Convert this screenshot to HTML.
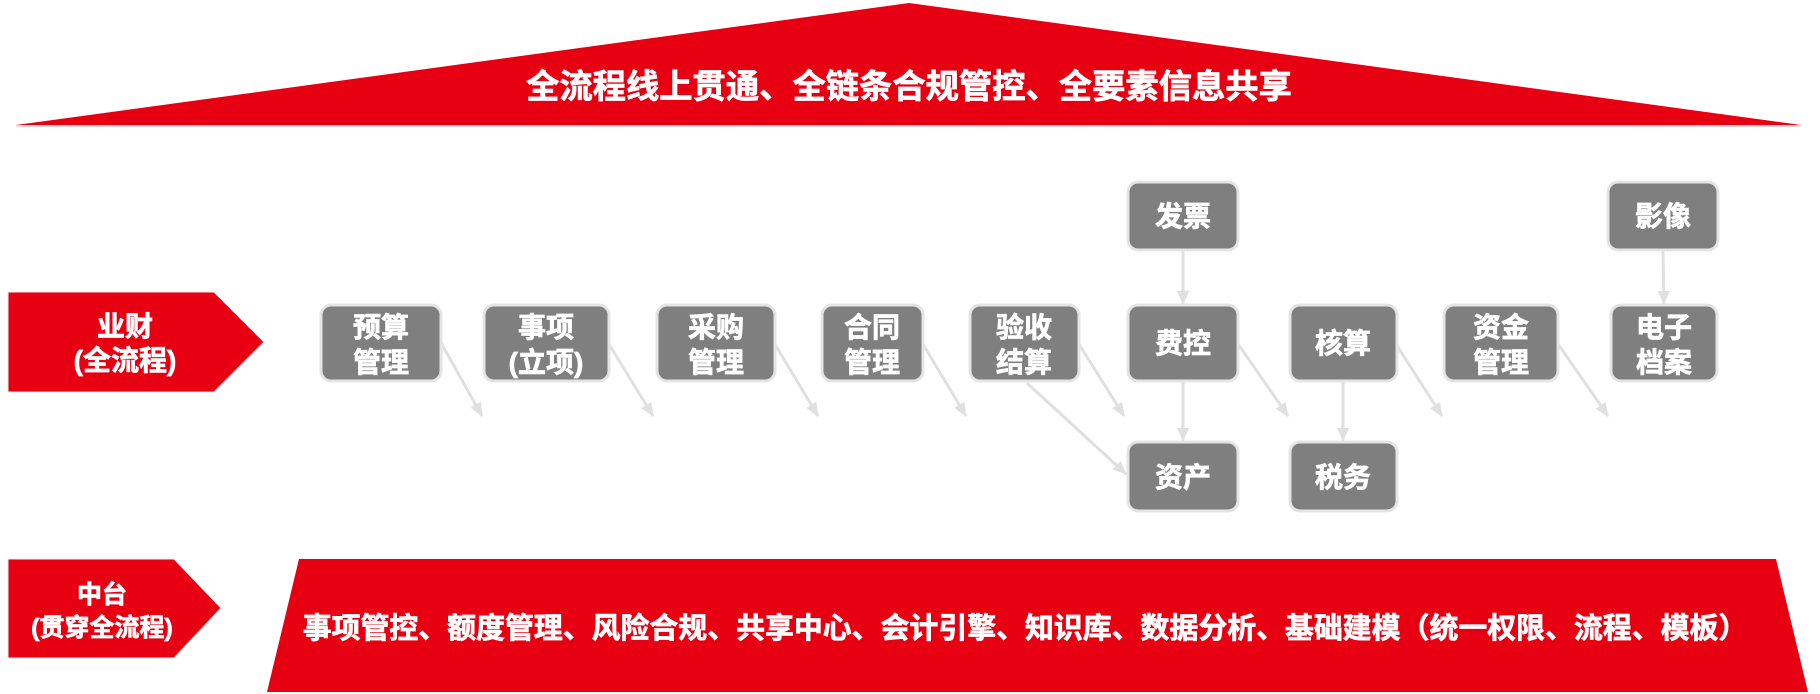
<!DOCTYPE html>
<html><head><meta charset="utf-8"><style>
html,body{margin:0;padding:0;background:#fff;}
svg{display:block;}
text{font-family:"Liberation Sans","Noto Sans CJK SC",sans-serif;font-weight:bold;fill:#fff;text-anchor:middle;stroke:#fff;stroke-width:0.7px;}
.b{fill:#7f7f7f;stroke:#e4e4e4;stroke-width:3;}
.a{stroke:#e0e0e0;stroke-width:3;fill:none;}
.t{font-size:28px;}
</style></head><body>
<svg width="1820" height="694" viewBox="0 0 1820 694" xmlns="http://www.w3.org/2000/svg">
<defs>
<marker id="m" viewBox="0 0 14 12" refX="13" refY="6" markerWidth="14" markerHeight="12" markerUnits="userSpaceOnUse" orient="auto">
<path d="M0,0 L14,6 L0,12 Z" fill="#e0e0e0"/>
</marker>
</defs>
<polygon points="909,3 1801,125 16,125" fill="#e60012"/>
<line x1="16" y1="126" x2="1801" y2="126" stroke="#f0c8c8" stroke-width="1.5"/>
<text x="909" y="98" style="font-size:33.3px">全流程线上贯通、全链条合规管控、全要素信息共享</text>

<polygon points="8,292 214,292 264,342 214,392 8,392" fill="#e60012" stroke="#eee" stroke-width="1"/>
<text x="125" y="336" style="font-size:28px">业财</text>
<text x="125" y="370" style="font-size:28px">(全流程)</text>

<g class="a">
<line x1="440" y1="341" x2="482" y2="416" marker-end="url(#m)"/>
<line x1="607" y1="341" x2="653" y2="416" marker-end="url(#m)"/>
<line x1="773" y1="341" x2="818" y2="416" marker-end="url(#m)"/>
<line x1="921" y1="341" x2="966" y2="416" marker-end="url(#m)"/>
<line x1="1077" y1="341" x2="1124" y2="416" marker-end="url(#m)"/>
<line x1="1236" y1="341" x2="1288" y2="416" marker-end="url(#m)"/>
<line x1="1394" y1="341" x2="1442" y2="416" marker-end="url(#m)"/>
<line x1="1556" y1="341" x2="1608" y2="416" marker-end="url(#m)"/>
<line x1="1027" y1="383" x2="1126" y2="474" marker-end="url(#m)"/>
<line x1="1183" y1="251" x2="1183" y2="304" marker-end="url(#m)"/>
<line x1="1183" y1="382" x2="1183" y2="441" marker-end="url(#m)"/>
<line x1="1343" y1="382" x2="1343" y2="441" marker-end="url(#m)"/>
<line x1="1663" y1="251" x2="1664" y2="304" marker-end="url(#m)"/>
</g>

<rect class="b" x="321" y="305" width="120" height="76" rx="10"/>
<text class="t" x="381" y="337">预算</text><text class="t" x="381" y="372">管理</text>
<rect class="b" x="484" y="305" width="125" height="76" rx="10"/>
<text class="t" x="546" y="337">事项</text><text class="t" x="546" y="372">(立项)</text>
<rect class="b" x="657" y="305" width="118" height="76" rx="10"/>
<text class="t" x="716" y="337">采购</text><text class="t" x="716" y="372">管理</text>
<rect class="b" x="822" y="305" width="101" height="76" rx="10"/>
<text class="t" x="872" y="337">合同</text><text class="t" x="872" y="372">管理</text>
<rect class="b" x="970" y="305" width="109" height="76" rx="10"/>
<text class="t" x="1024" y="337">验收</text><text class="t" x="1024" y="372">结算</text>
<rect class="b" x="1128" y="305" width="110" height="76" rx="10"/>
<text class="t" x="1183" y="353">费控</text>
<rect class="b" x="1290" y="305" width="107" height="76" rx="10"/>
<text class="t" x="1343" y="353">核算</text>
<rect class="b" x="1444" y="305" width="114" height="76" rx="10"/>
<text class="t" x="1501" y="337">资金</text><text class="t" x="1501" y="372">管理</text>
<rect class="b" x="1611" y="305" width="106" height="76" rx="10"/>
<text class="t" x="1664" y="337">电子</text><text class="t" x="1664" y="372">档案</text>
<rect class="b" x="1128" y="182" width="110" height="68" rx="10"/>
<text class="t" x="1183" y="226">发票</text>
<rect class="b" x="1608" y="182" width="110" height="68" rx="10"/>
<text class="t" x="1663" y="226">影像</text>
<rect class="b" x="1128" y="442" width="110" height="69" rx="10"/>
<text class="t" x="1183" y="487">资产</text>
<rect class="b" x="1290" y="442" width="107" height="69" rx="10"/>
<text class="t" x="1343" y="487">税务</text>

<polygon points="8,559 174,559 221,608 174,658 8,658" fill="#e60012" stroke="#eee" stroke-width="1"/>
<text x="102" y="603" style="font-size:25px">中台</text>
<text x="102" y="636" style="font-size:25px">(贯穿全流程)</text>

<polygon points="299,559 1776,559 1808,692 267,692" fill="#e60012"/>
<text x="1025" y="638" style="font-size:28.9px">事项管控、额度管理、风险合规、共享中心、会计引擎、知识库、数据分析、基础建模（统一权限、流程、模板）</text>
</svg>
</body></html>
